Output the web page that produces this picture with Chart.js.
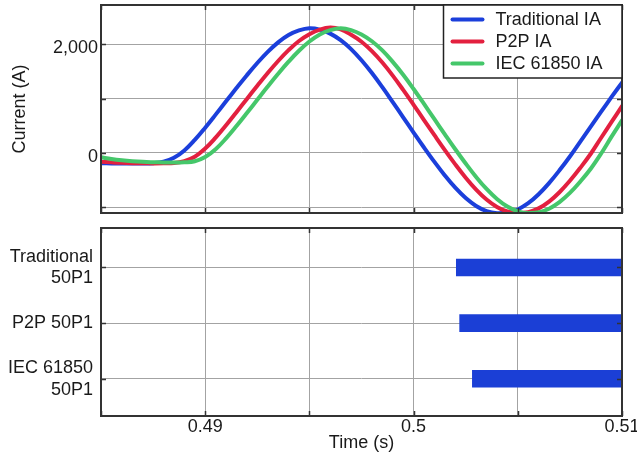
<!DOCTYPE html>
<html>
<head>
<meta charset="utf-8">
<script src="https://cdn.jsdelivr.net/npm/chart.js@4.4.1/dist/chart.umd.min.js"></script>
<style>
  body { margin: 0; background: #fff; }
  #wrap { position: relative; width: 637px; height: 454px; }
  #top { position: absolute; left: 0; top: 0; }
  #bottom { position: absolute; left: 0; top: 222px; }
</style>
</head>
<body>
<div id="wrap">
  <canvas id="top" width="637" height="222"></canvas>
  <canvas id="bottom" width="637" height="232"></canvas>
</div>
<script>
const times = [
  0.485, 0.4855, 0.486, 0.4865, 0.487, 0.4875, 0.488, 0.4885, 0.489, 0.4895,
  0.49, 0.4905, 0.491, 0.4915, 0.492, 0.4925, 0.493, 0.4935, 0.494, 0.4945,
  0.495, 0.4955, 0.496, 0.4965, 0.497, 0.4975, 0.498, 0.4985, 0.499, 0.4995,
  0.5, 0.5005, 0.501, 0.5015, 0.502, 0.5025, 0.503, 0.5035, 0.504, 0.5045,
  0.505, 0.5055, 0.506, 0.5065, 0.507, 0.5075, 0.508, 0.5085, 0.509, 0.5095,
  0.51
];
const traditionalIA = [
  -190, -192, -195, -196, -195, -188, -160, -90, 45, 240,
  465, 705, 950, 1193, 1430, 1655, 1860, 2035, 2170, 2255,
  2295, 2270, 2195, 2075, 1910, 1705, 1470, 1210, 935, 655,
  375, 100, -165, -415, -640, -830, -975, -1070, -1110, -1100,
  -1040, -925, -760, -555, -320, -65, 210, 485, 760, 1030,
  1295
];
const p2pIA = [
  -160, -172, -182, -188, -191, -192, -191, -186, -150, -70,
  80, 281, 508, 749, 994, 1235, 1471, 1692, 1891, 2060,
  2185, 2270, 2308, 2275, 2174, 2046, 1873, 1663, 1423, 1160,
  885, 605, 326, 52, -210, -455, -674, -857, -993, -1077,
  -1108, -1089, -1020, -896, -723, -513, -274, -15, 280, 570,
  860
];
const iec61850IA = [
  -80, -112, -136, -153, -164, -170, -174, -177, -172, -152,
  -74, 69, 267, 494, 734, 979, 1222, 1457, 1679, 1881,
  2051, 2181, 2259, 2292, 2261, 2181, 2055, 1886, 1676, 1439,
  1177, 902, 621, 342, 68, -195, -442, -663, -847, -986,
  -1075, -1109, -1093, -1026, -905, -736, -526, -290, -10, 300,
  600
];
const seriesNames = ["Traditional IA", "P2P IA", "IEC 61850 IA"];
const relayNames = [["Traditional", "50P1"], ["P2P 50P1"], ["IEC 61850", "50P1"]];
const tripStart = [0.50205, 0.50221, 0.50282];
const tripEnd = [0.51, 0.51, 0.51];
const timeTicks = [0.485, 0.49, 0.495, 0.5, 0.505, 0.51];
const timeLabels = ["", "0.49", "", "0.5", "", "0.51"];
const currentTicks = [-1000, 0, 1000, 2000];
const currentLabels = ["", "0", "", "2,000"];

const colors = ["#1b3fdb", "#e3203f", "#45c76a"];
const gridColor = "#a3a3a3";

Chart.defaults.font.family = "'Liberation Sans', Arial, sans-serif";
Chart.defaults.font.size = 18;
Chart.defaults.color = "#1a1a1a";

const pts = (vals) => times.map((t, i) => ({ x: t, y: vals[i] }));

// frame round the plot area plus small inward ticks
const frame = {
  id: "frame",
  afterDraw(chart) {
    const { ctx, chartArea: a, scales } = chart;
    ctx.save();
    ctx.strokeStyle = "#333";
    ctx.lineWidth = 1.5;
    ctx.beginPath();
    scales.x.ticks.forEach((t) => {
      const px = Math.round(scales.x.getPixelForValue(t.value)) + 0.5;
      ctx.moveTo(px, a.top); ctx.lineTo(px, a.top + 5);
      ctx.moveTo(px, a.bottom); ctx.lineTo(px, a.bottom - 5);
    });
    scales.y.ticks.forEach((t) => {
      const py = Math.round(scales.y.getPixelForValue(t.value)) + 0.5;
      ctx.moveTo(a.left, py); ctx.lineTo(a.left + 5, py);
      ctx.moveTo(a.right, py); ctx.lineTo(a.right - 5, py);
    });
    ctx.stroke();
    ctx.lineWidth = 2;
    ctx.strokeRect(a.left, a.top, a.right - a.left, a.bottom - a.top);
    ctx.restore();
  }
};

const legendBox = {
  id: "legendBox",
  afterDraw(chart) {
    const { ctx, chartArea: a } = chart;
    const x0 = 443.5, y0 = a.top, w = a.right - x0, h = 73;
    ctx.save();
    ctx.fillStyle = "#fff";
    ctx.fillRect(x0, y0, w, h);
    ctx.strokeStyle = "#222";
    ctx.lineWidth = 1.5;
    ctx.strokeRect(x0, y0, w, h);
    ctx.font = "18px 'Liberation Sans', Arial, sans-serif";
    ctx.textBaseline = "middle";
    ctx.lineCap = "round";
    chart.data.datasets.forEach((ds, i) => {
      const y = y0 + 14.5 + i * 22;
      ctx.strokeStyle = ds.borderColor;
      ctx.lineWidth = 4;
      ctx.beginPath();
      ctx.moveTo(x0 + 9, y);
      ctx.lineTo(x0 + 39, y);
      ctx.stroke();
      ctx.fillStyle = "#1a1a1a";
      ctx.fillText(ds.label, x0 + 52, y + 1);
    });
    ctx.restore();
  }
};

const timeAxis = (showLabels) => ({
  type: "linear",
  min: 0.485,
  max: 0.51,
  afterBuildTicks: (s) => { s.ticks = timeTicks.map((v) => ({ value: v })); },
  ticks: {
    display: showLabels,
    autoSkip: false,
    maxRotation: 0,
    padding: 0,
    callback: (v, i) => timeLabels[i]
  },
  grid: { color: gridColor, drawTicks: false },
  border: { display: false },
  title: { display: showLabels, text: "Time (s)", padding: 0 },
  afterFit: (s) => {
    s.height = showLabels ? 38 : 9;
    s.paddingLeft = 0;
    s.paddingRight = 0;
  }
});

new Chart(document.getElementById("top"), {
  type: "line",
  data: {
    datasets: [traditionalIA, p2pIA, iec61850IA].map((vals, i) => ({
      label: seriesNames[i],
      data: pts(vals),
      borderColor: colors[i],
      borderWidth: 4,
      pointRadius: 0,
      tension: 0.4,
      borderCapStyle: "round",
      borderJoinStyle: "round",
      order: 3 - i
    }))
  },
  options: {
    responsive: false,
    animation: false,
    events: [],
    layout: { padding: { top: 5, right: 15, left: 0, bottom: 0 } },
    plugins: { legend: { display: false }, tooltip: { enabled: false } },
    scales: {
      x: timeAxis(false),
      y: {
        min: -1105,
        max: 2722,
        afterBuildTicks: (s) => { s.ticks = currentTicks.map((v) => ({ value: v })); },
        ticks: { autoSkip: false, padding: 3, labelOffset: 4, callback: (v, i) => currentLabels[i] },
        grid: { color: gridColor, drawTicks: false },
        border: { display: false },
        title: { display: true, text: "Current (A)", padding: { top: 9, bottom: 0 } },
        afterFit: (s) => { s.width = 101; s.paddingTop = 0; s.paddingBottom = 0; }
      }
    }
  },
  plugins: [frame, legendBox]
});

new Chart(document.getElementById("bottom"), {
  type: "bar",
  data: {
    datasets: [{
      label: "50P1",
      data: relayNames.map((n, i) => ({ x: [tripStart[i], tripEnd[i]], y: i + 1 })),
      backgroundColor: "#1b3fd6",
      borderWidth: 0,
      barThickness: 17
    }]
  },
  options: {
    indexAxis: "y",
    responsive: false,
    animation: false,
    events: [],
    layout: { padding: { top: 6, right: 15, left: 0, bottom: 0 } },
    plugins: { legend: { display: false }, tooltip: { enabled: false } },
    scales: {
      x: timeAxis(true),
      y: {
        type: "linear",
        min: 0.29,
        max: 3.67,
        reverse: true,
        offset: false,
        afterBuildTicks: (s) => { s.ticks = relayNames.map((n, i) => ({ value: i + 1 })); },
        ticks: { autoSkip: false, padding: 8, callback: (v, i) => relayNames[i] },
        grid: { color: gridColor, drawTicks: false, offset: false },
        border: { display: false },
        afterFit: (s) => { s.width = 101; s.paddingTop = 0; s.paddingBottom = 0; }
      }
    }
  },
  plugins: [frame]
});
</script>
</body>
</html>
